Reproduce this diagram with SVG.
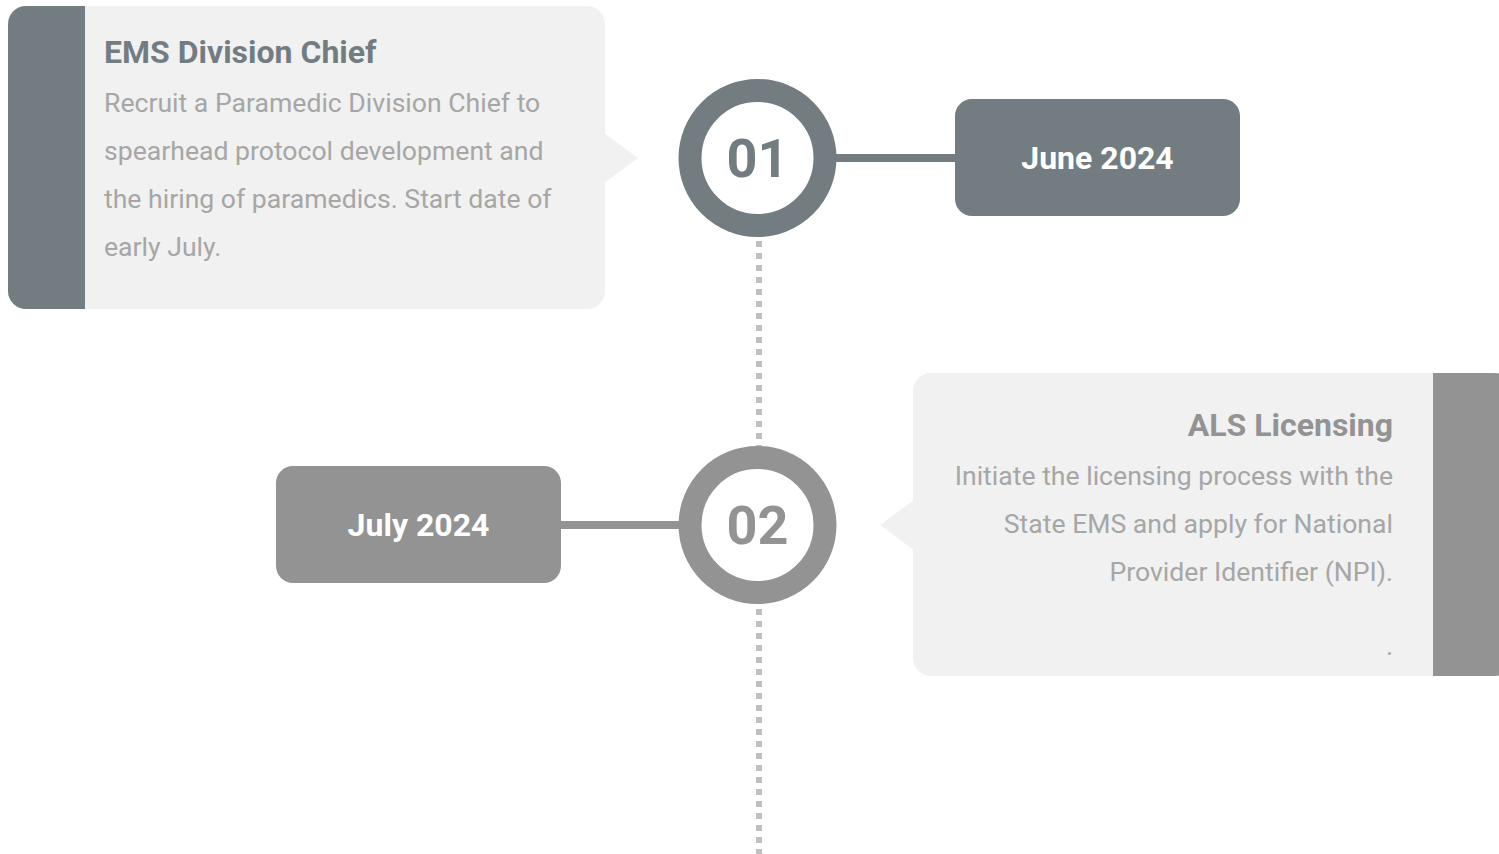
<svg xmlns="http://www.w3.org/2000/svg" width="1499" height="854" viewBox="0 0 1499 854">
<style>
.t{font-family:Roboto,"Liberation Sans",sans-serif}
.title{font-size:32px;font-weight:700}
.body{font-size:26.6px;fill:#a6a6a6}
.num{font-size:54px;font-weight:700;text-anchor:middle}
.date{font-size:32px;font-weight:700;fill:#ffffff;text-anchor:middle}
.card{fill:#f1f1f1}
.dots{stroke:#c0c0c0;stroke-width:6;stroke-dasharray:6 6;fill:none}
</style>
<defs>
<clipPath id="c1"><rect x="8" y="6" width="597" height="303" rx="18"/></clipPath>
<clipPath id="c2"><rect x="913" y="373" width="600" height="303" rx="18"/></clipPath>
</defs>
<rect width="1499" height="854" fill="#ffffff"/>
<g id="connectors">
<line class="dots" x1="759" y1="241" x2="759" y2="446"/>
<line class="dots" x1="759" y1="609" x2="759" y2="854"/>
<line x1="830" y1="158" x2="960" y2="158" stroke="#737d81" stroke-width="8"/>
<line x1="555" y1="525" x2="685" y2="525" stroke="#939393" stroke-width="8"/>
</g>
<g id="card1">
<g clip-path="url(#c1)">
<rect class="card" x="8" y="6" width="597" height="303"/>
<rect x="8" y="6" width="77" height="303" fill="#737d81"/>
</g>
<polygon class="card" points="604,133 638,158 604,183"/>
<text class="t title" x="104" y="63" fill="#737d81">EMS Division Chief</text>
<text class="t body" x="104" y="112">Recruit a Paramedic Division Chief to</text>
<text class="t body" x="104" y="160">spearhead protocol development and</text>
<text class="t body" x="104" y="208">the hiring of paramedics. Start date of</text>
<text class="t body" x="104" y="256">early July.</text>
</g>
<g id="node01">
<circle cx="757.5" cy="158" r="67.5" fill="#ffffff" stroke="#737d81" stroke-width="23"/>
<text class="t num" x="757.5" y="177" fill="#737d81">01</text>
</g>
<g id="june">
<rect x="955" y="99" width="285" height="117" rx="17" fill="#737d81"/>
<text class="t date" x="1097.5" y="169">June 2024</text>
</g>
<g id="july">
<rect x="276" y="466" width="285" height="117" rx="17" fill="#939393"/>
<text class="t date" x="418.5" y="536">July 2024</text>
</g>
<g id="node02">
<circle cx="757.5" cy="525" r="67.5" fill="#ffffff" stroke="#939393" stroke-width="23"/>
<text class="t num" x="757.5" y="544" fill="#939393">02</text>
</g>
<g id="card2">
<g clip-path="url(#c2)">
<rect class="card" x="913" y="373" width="586" height="303"/>
<rect x="1433" y="373" width="66" height="303" fill="#939393"/>
</g>
<polygon class="card" points="914,500 880,525 914,550"/>
<g text-anchor="end">
<text class="t title" x="1393" y="436" fill="#939393">ALS Licensing</text>
<text class="t body" x="1393" y="485">Initiate the licensing process with the</text>
<text class="t body" x="1393" y="533">State EMS and apply for National</text>
<text class="t body" x="1393" y="581">Provider Identifier (NPI).</text>
<text class="t body" x="1393" y="655">.</text>
</g>
</g>
</svg>
